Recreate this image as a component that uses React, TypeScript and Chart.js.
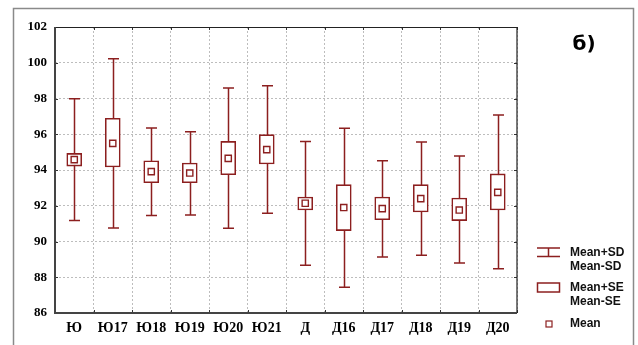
import React, { useEffect, useRef } from "react";
import { Chart, registerables } from "chart.js";

Chart.register(...registerables);

const categories = ["Ю", "Ю17", "Ю18", "Ю19", "Ю20", "Ю21", "Д", "Д16", "Д17", "Д18", "Д19", "Д20"];
const means = [94.58, 95.49, 93.91, 93.83, 94.65, 95.14, 92.14, 91.9, 91.84, 92.4, 91.76, 92.75];
const seHigh = [94.93, 96.89, 94.52, 94.39, 95.6, 95.98, 92.49, 93.18, 92.49, 93.18, 92.43, 93.78];
const seLow = [94.22, 94.17, 93.29, 93.29, 93.74, 94.34, 91.76, 90.61, 91.22, 91.65, 91.17, 91.76];
const sdHigh = [97.99, 100.23, 96.35, 96.14, 98.59, 98.72, 95.6, 96.33, 94.52, 95.57, 94.78, 97.08];
const sdLow = [91.17, 90.76, 91.46, 91.48, 90.74, 91.58, 88.67, 87.44, 89.13, 89.23, 88.8, 88.48];
const yTicks = [86, 88, 90, 92, 94, 96, 98, 100, 102];

const RED = "#8c1f1f";

const decorPlugin = {
  id: "decor",
  beforeDraw(chart: any) {
    const ctx = chart.ctx;
    ctx.save();
    ctx.fillStyle = "#ffffff";
    ctx.fillRect(0, 0, chart.width, chart.height);
    ctx.strokeStyle = "#8a8a8a";
    ctx.lineWidth = 1.5;
    ctx.strokeRect(13.5, 8.5, 620, 345);
    ctx.restore();
  },
  beforeDatasetsDraw(chart: any) {
    const ctx = chart.ctx;
    const x = chart.scales.x;
    const y = chart.scales.y;
    ctx.save();
    ctx.strokeStyle = RED;
    ctx.lineWidth = 1.5;
    for (let i = 0; i < categories.length; i++) {
      const px = Math.round(x.getPixelForValue(i)) + 0.5;
      const t = y.getPixelForValue(sdHigh[i]);
      const b = y.getPixelForValue(sdLow[i]);
      ctx.beginPath();
      ctx.moveTo(px, t);
      ctx.lineTo(px, b);
      ctx.moveTo(px - 5.5, t);
      ctx.lineTo(px + 5.5, t);
      ctx.moveTo(px - 5.5, b);
      ctx.lineTo(px + 5.5, b);
      ctx.stroke();
    }
    ctx.restore();
  },
  afterDatasetsDraw(chart: any) {
    const ctx = chart.ctx;
    const a = chart.chartArea;
    const x = chart.scales.x;
    const y = chart.scales.y;
    ctx.save();
    // inner tick marks
    ctx.strokeStyle = "#333";
    ctx.lineWidth = 1;
    for (const v of yTicks) {
      const py = Math.round(y.getPixelForValue(v)) + 0.5;
      ctx.beginPath();
      ctx.moveTo(a.left, py);
      ctx.lineTo(a.left + 3, py);
      ctx.moveTo(a.right, py);
      ctx.lineTo(a.right - 3, py);
      ctx.stroke();
    }
    for (let i = 0; i <= categories.length; i++) {
      const px = Math.round(x.getPixelForValue(i - 0.5)) + 0.5;
      ctx.beginPath();
      ctx.moveTo(px, a.bottom);
      ctx.lineTo(px, a.bottom - 3);
      ctx.moveTo(px, a.top);
      ctx.lineTo(px, a.top + 3);
      ctx.stroke();
    }
    // plot frame
    ctx.strokeStyle = "#222";
    ctx.lineWidth = 1.2;
    ctx.beginPath();
    ctx.moveTo(a.left, a.top + 0.5);
    ctx.lineTo(a.right, a.top + 0.5);
    ctx.lineTo(a.right, a.bottom);
    ctx.stroke();
    ctx.strokeStyle = "#444";
    ctx.lineWidth = 2;
    ctx.beginPath();
    ctx.moveTo(a.left, a.top);
    ctx.lineTo(a.left, a.bottom);
    ctx.lineTo(a.right, a.bottom);
    ctx.stroke();

    // title
    ctx.fillStyle = "#000";
    ctx.font = "bold 20px 'DejaVu Sans'";
    ctx.textAlign = "center";
    ctx.textBaseline = "middle";
    ctx.fillText("б)", 584, 45);

    // legend
    ctx.strokeStyle = RED;
    ctx.lineWidth = 1.5;
    ctx.beginPath();
    ctx.moveTo(537, 248);
    ctx.lineTo(560, 248);
    ctx.moveTo(537, 256.5);
    ctx.lineTo(560, 256.5);
    ctx.moveTo(548.5, 248);
    ctx.lineTo(548.5, 256.5);
    ctx.stroke();
    ctx.strokeRect(537.5, 283, 22, 9);
    ctx.lineWidth = 1.2;
    ctx.strokeRect(546, 321, 6, 6);

    ctx.fillStyle = "#111";
    ctx.font = "bold 12px 'Liberation Sans'";
    ctx.textAlign = "left";
    ctx.textBaseline = "middle";
    ctx.fillText("Mean+SD", 570, 253);
    ctx.fillText("Mean-SD", 570, 267);
    ctx.fillText("Mean+SE", 570, 288);
    ctx.fillText("Mean-SE", 570, 302);
    ctx.fillText("Mean", 570, 324);
    ctx.restore();
  },
};

export default function App() {
  const ref = useRef<HTMLCanvasElement | null>(null);
  useEffect(() => {
    if (!ref.current) return;
    const chart = new Chart(ref.current, {
      type: "bar",
      data: {
        labels: categories,
        datasets: [
          {
            type: "bar",
            data: seLow.map((l, i) => [l, seHigh[i]]) as any,
            backgroundColor: "#ffffff",
            borderColor: RED,
            borderWidth: 1.6,
            borderSkipped: false,
            barThickness: 15,
            grouped: false,
            order: 2,
          } as any,
          {
            type: "line",
            data: means,
            showLine: false,
            pointStyle: "rect",
            pointRadius: 4.4,
            pointHoverRadius: 4.4,
            pointBorderWidth: 1.4,
            pointBackgroundColor: "#ffffff",
            pointBorderColor: RED,
            order: 1,
          } as any,
        ],
      },
      options: {
        responsive: false,
        animation: false,
        events: [],
        layout: { padding: { left: 0, top: 27, right: 121, bottom: 0 } },
        plugins: { legend: { display: false }, tooltip: { enabled: false } },
        scales: {
          x: {
            offset: true,
            grid: { offset: true, color: "#bdbdbd", lineWidth: 1, drawTicks: false },
            border: { display: false, dash: [2, 2] },
            ticks: {
              color: "#000",
              padding: 7,
              font: { family: "'Liberation Serif'", weight: "bold", size: 14 },
              maxRotation: 0,
              autoSkip: false,
            },
            afterFit: (s: any) => {
              s.height = 32;
            },
          },
          y: {
            min: 86,
            max: 102,
            grid: { color: "#bdbdbd", lineWidth: 1, drawTicks: false },
            border: { display: false, dash: [2, 2] },
            ticks: {
              stepSize: 2,
              color: "#000",
              padding: 8,
              font: { family: "'Liberation Serif'", weight: "bold", size: 13 },
            },
            afterFit: (s: any) => {
              s.width = 55;
            },
          },
        },
      },
      plugins: [decorPlugin],
    });
    return () => chart.destroy();
  }, []);
  return (
    <div style={{ position: "fixed", left: 0, top: 0, width: 638, height: 345 }}>
      <canvas ref={ref} width={638} height={345} style={{ width: 638, height: 345 }} />
    </div>
  );
}
